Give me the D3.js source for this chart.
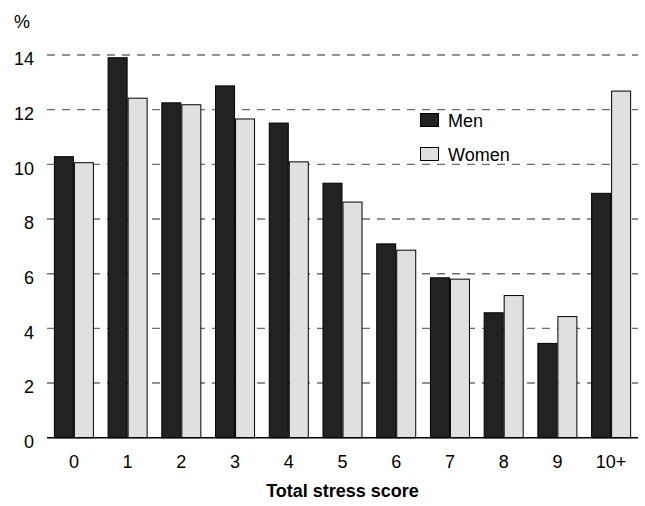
<!DOCTYPE html>
<html>
<head>
<meta charset="utf-8">
<script src="https://cdn.jsdelivr.net/npm/d3@7"></script>
<style>
  html, body { margin: 0; padding: 0; background: #fff; }
  svg { display: block; font-family: "Liberation Sans", Arial, sans-serif; }
</style>
</head>
<body>
<svg id="chart" width="645" height="506"></svg>
<script>
const categories = ["0","1","2","3","4","5","6","7","8","9","10+"];
const seriesNames = ["Men","Women"];
const men   = [10.28, 13.90, 12.25, 12.87, 11.51, 9.31, 7.09, 5.85, 4.57, 3.45, 8.94];
const women = [10.06, 12.42, 12.18, 11.66, 10.09, 8.62, 6.86, 5.80, 5.20, 4.43, 12.68];
const yTicks = [0, 2, 4, 6, 8, 10, 12, 14];
const colors = ["#222222", "#e0e0e0"];

(function () {
const svg = d3.select("#chart");
const mLeft = 47, mRight = 638, mTop = 55, mBottom = 437.7;

const x0 = d3.scaleBand().domain(categories).range([mLeft, mRight])
  .paddingInner(0.255).paddingOuter(0.128);
const x1 = d3.scaleBand().domain(seriesNames).range([0, x0.bandwidth()]);
const y = d3.scaleLinear().domain([0, 14]).range([mBottom, mTop]);

// gridlines
svg.append("g").selectAll("line").data(yTicks.filter(d => d > 0)).join("line")
  .attr("x1", mLeft).attr("x2", mRight)
  .attr("y1", d => y(d)).attr("y2", d => y(d))
  .attr("stroke", "#6e6e6e").attr("stroke-width", 1.4)
  .attr("stroke-dasharray", "8,7");

// y axis labels
const yAxis = d3.axisLeft(y).tickValues(yTicks).tickSize(0).tickPadding(0);
const gy = svg.append("g").attr("transform", `translate(34,0)`).call(yAxis);
gy.select(".domain").remove();
gy.selectAll("text").attr("font-size", 18).attr("fill", "#000")
  .attr("font-family", "'Liberation Sans', Arial, sans-serif")
  .attr("dy", "0.55em");

svg.append("text").attr("x", 14).attr("y", 28).attr("font-size", 18).text("%");

// bars
const data = categories.map((c, i) => ({c, vals: [men[i], women[i]]}));
const groups = svg.append("g").selectAll("g").data(data).join("g")
  .attr("transform", d => `translate(${x0(d.c)},0)`);
groups.selectAll("rect").data(d => d.vals.map((v, j) => ({s: seriesNames[j], v, j}))).join("rect")
  .attr("x", d => x1(d.s) + 0.5)
  .attr("y", d => y(d.v))
  .attr("width", x1.bandwidth() - 1)
  .attr("height", d => mBottom - y(d.v))
  .attr("fill", d => colors[d.j])
  .attr("stroke", "#000").attr("stroke-width", 1);

// baseline
svg.append("line").attr("x1", mLeft).attr("x2", mRight).attr("y1", mBottom).attr("y2", mBottom)
  .attr("stroke", "#000").attr("stroke-width", 1.5);

// x axis labels
const xAxis = d3.axisBottom(x0).tickSize(0).tickPadding(0);
const gx = svg.append("g").attr("transform", `translate(0,${mBottom + 17.5})`).call(xAxis);
gx.select(".domain").remove();
gx.selectAll("text").attr("font-size", 18).attr("fill", "#000")
  .attr("font-family", "'Liberation Sans', Arial, sans-serif")
  .attr("dy", "0.71em");

svg.append("text").attr("x", (mLeft + mRight) / 2).attr("y", 497)
  .attr("text-anchor", "middle").attr("font-size", 18).attr("font-weight", "bold")
  .text("Total stress score");

// legend
const leg = svg.append("g").attr("transform", "translate(420,113)");
seriesNames.forEach((s, i) => {
  const g = leg.append("g").attr("transform", `translate(0,${i * 34})`);
  g.append("rect").attr("x", 0.5).attr("y", 0.5).attr("width", 18).attr("height", 13)
    .attr("fill", colors[i]).attr("stroke", "#000").attr("stroke-width", 1);
  g.append("text").attr("x", 28).attr("y", 14).attr("font-size", 18).text(s);
});
})();
</script>
</body>
</html>
